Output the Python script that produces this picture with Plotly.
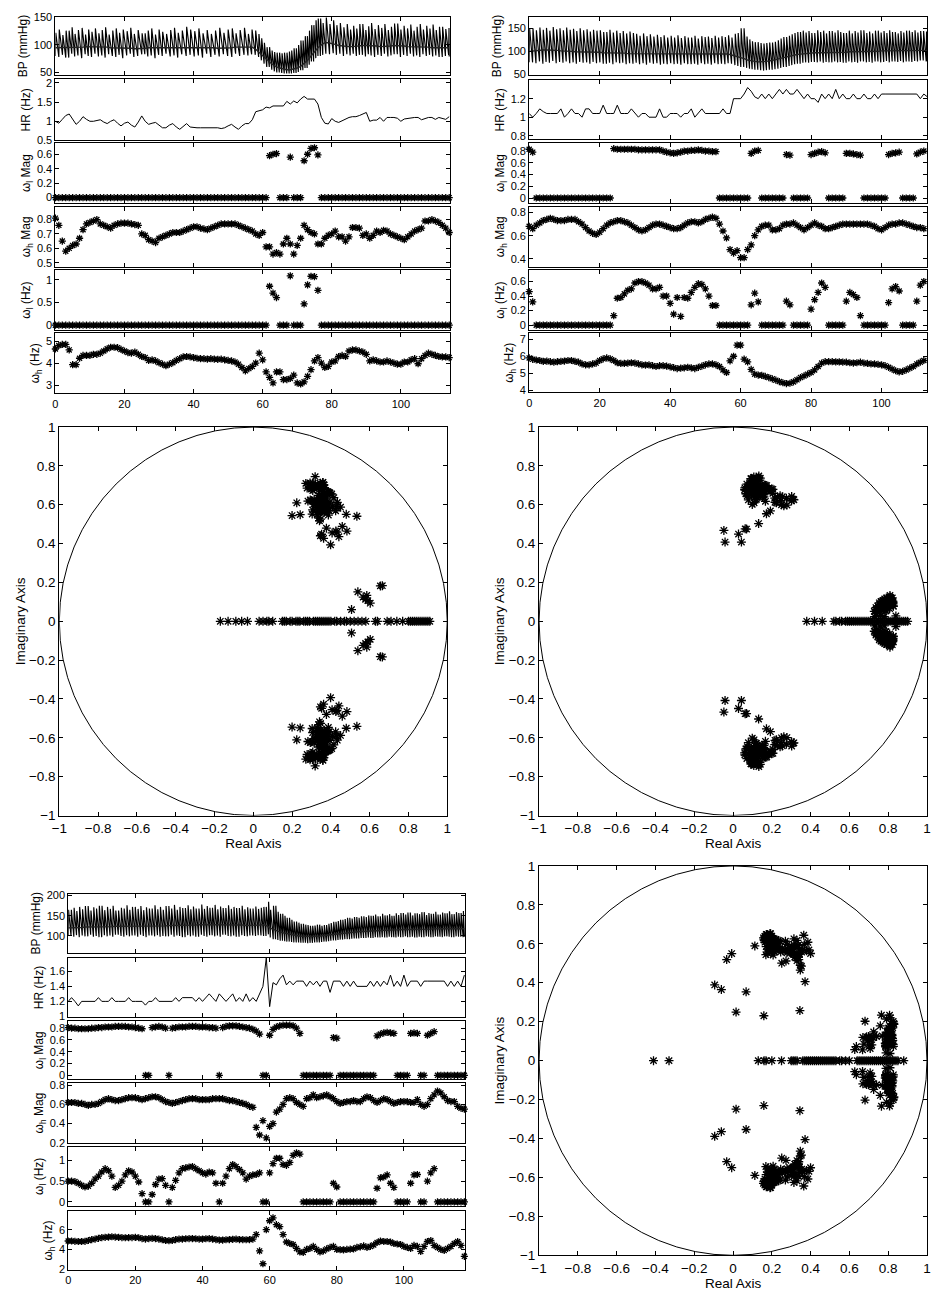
import numpy as np
import plotly.graph_objects as go

W, H = 931, 1293
FS = 25.0  # sampling rate used for the AR pole angles (Hz)
FONT = "Liberation Sans, Arial, Helvetica, sans-serif"

# ---------------------------------------------------------------- record A
bp_sys_a = [122,128,118,126,132,120,127,131,119,128,
            124,130,121,127,132,119,126,130,122,128,
            125,131,120,127,133,121,126,130,119,128,
            124,132,120,127,131,122,126,133,120,128,
            125,130,121,127,132,120,126,131,122,128,
            124,130,121,127,131,120,128,126,
            120,112,104,96,90,87,86,85,86,88,
            90,94,100,108,116,126,136,145,148,140,
            150,138,145,136,140,132,138,128,135,130,
            138,127,134,140,129,136,131,138,127,133,
            139,128,135,130,137,126,133,138,128,135,
            130,137,127,133,129,131,128]
bp_dia_a = [80,78,82,77,84,79,81,76,83,80,
            78,84,79,81,77,83,80,78,82,76,
            81,84,78,80,77,83,79,81,76,82,
            80,78,84,79,81,77,83,80,78,82,
            79,81,77,84,80,78,82,79,83,80,
            81,78,84,80,82,81,83,82,
            78,72,66,60,55,52,50,49,48,48,
            48,49,51,54,58,64,70,76,80,82,
            84,83,85,82,84,80,83,81,84,80,
            82,79,83,81,78,82,80,84,79,81,
            83,78,82,80,84,79,81,78,83,80,
            82,79,81,78,80,82,79]
bp_mean_a = [95,95,96,96,96,95,95,96,96,97,
             97,97,96,96,96,96,95,95,95,94,
             94,94,94,93,93,94,94,95,95,96,
             96,96,96,96,96,96,95,95,96,96,
             96,96,96,95,95,95,95,94,94,94,
             94,95,96,96,97,97,97,96,
             92,86,80,74,69,64,60,58,56,55,
             55,56,58,61,66,72,80,88,95,100,
             104,104,103,101,99,98,98,97,97,98,
             98,99,99,99,98,98,97,97,97,98,
             99,99,98,98,97,97,97,96,96,96,
             96,95,95,95,95,95,95]
hr_a = [1.00,0.95,1.05,1.15,1.19,1.05,0.92,1.00,1.12,1.05,
        1.00,1.00,1.02,1.04,0.98,0.94,1.00,1.04,0.95,0.88,
        0.95,0.98,0.90,0.85,0.98,1.14,1.00,0.92,0.95,0.97,
        0.90,0.83,0.83,0.90,0.94,0.85,0.79,0.87,0.94,0.85,
        0.83,0.83,0.83,0.83,0.83,0.83,0.82,0.83,0.81,0.83,
        0.88,0.92,0.85,0.79,0.88,0.94,0.94,1.04,1.25,1.27,
        1.30,1.37,1.35,1.40,1.40,1.40,1.40,1.52,1.45,1.53,
        1.48,1.58,1.65,1.58,1.58,1.58,1.45,1.10,0.95,0.93,
        1.07,1.00,0.97,1.02,1.05,1.10,1.12,1.12,1.15,1.20,
        1.23,1.00,1.03,1.03,1.10,1.00,1.10,1.10,1.10,1.08,
        1.00,1.06,1.08,1.10,1.10,1.10,1.04,1.07,1.10,1.10,
        1.05,1.10,1.08,1.05,1.12]
wl_mag_a = [0,0,0,0,0,0,0,0,0,0,
            0,0,0,0,0,0,0,0,0,0,
            0,0,0,0,0,0,0,0,0,0,
            0,0,0,0,0,0,0,0,0,0,
            0,0,0,0,0,0,0,0,0,0,
            0,0,0,0,0,0,0,0,0,0,
            0,0,0.58,0.60,0.61,0,0,0,0.56,0,
            0,0,0.51,0.60,0.68,0.69,0.59,0,0,0,
            0,0,0,0,0,0,0,0,0,0,
            0,0,0,0,0,0,0,0,0,0,
            0,0,0,0,0,0,0,0,0,0,
            0,0,0,0,0]
wl_hz_a = [0,0,0,0,0,0,0,0,0,0,
           0,0,0,0,0,0,0,0,0,0,
           0,0,0,0,0,0,0,0,0,0,
           0,0,0,0,0,0,0,0,0,0,
           0,0,0,0,0,0,0,0,0,0,
           0,0,0,0,0,0,0,0,0,0,
           0,0,0.86,0.71,0.61,0,0,0,1.09,0,
           0,0,0.47,0.89,1.08,1.07,0.77,0,0,0,
           0,0,0,0,0,0,0,0,0,0,
           0,0,0,0,0,0,0,0,0,0,
           0,0,0,0,0,0,0,0,0,0,
           0,0,0,0,0]
wh_mag_a = [0.81,0.76,0.65,0.58,0.60,0.62,0.63,0.67,0.73,0.77,
            0.78,0.79,0.80,0.77,0.76,0.75,0.74,0.76,0.77,0.775,
            0.775,0.775,0.77,0.765,0.76,0.70,0.69,0.66,0.65,0.64,
            0.67,0.68,0.69,0.70,0.71,0.71,0.71,0.72,0.73,0.74,
            0.75,0.75,0.74,0.735,0.73,0.74,0.75,0.76,0.77,0.77,
            0.77,0.77,0.77,0.76,0.75,0.74,0.73,0.72,0.70,0.69,
            0.71,0.61,0.61,0.56,0.57,0.56,0.63,0.67,0.63,0.56,
            0.62,0.67,0.76,0.73,0.71,0.70,0.63,0.63,0.67,0.69,
            0.70,0.72,0.68,0.68,0.65,0.68,0.745,0.745,0.74,0.69,
            0.70,0.67,0.69,0.72,0.71,0.725,0.72,0.70,0.69,0.68,
            0.67,0.66,0.68,0.70,0.72,0.73,0.74,0.79,0.79,0.80,
            0.79,0.78,0.76,0.74,0.71]
wh_hz_a = [4.64,4.80,4.85,4.85,4.60,3.93,3.93,4.22,4.35,4.35,
           4.35,4.40,4.40,4.45,4.55,4.65,4.72,4.72,4.70,4.62,
           4.55,4.48,4.45,4.50,4.40,4.30,4.25,4.12,4.15,4.10,
           4.02,3.95,3.88,3.95,4.02,4.12,4.20,4.28,4.30,4.28,
           4.25,4.22,4.20,4.20,4.18,4.20,4.18,4.17,4.18,4.15,
           4.12,4.10,4.05,3.95,3.80,3.65,3.75,3.85,4.00,4.45,
           4.15,3.60,3.35,3.10,3.60,3.60,3.25,3.25,3.30,3.45,
           3.10,3.05,3.15,3.40,3.70,4.10,4.25,4.00,3.80,3.85,
           4.05,4.10,4.30,4.35,4.30,4.55,4.60,4.60,4.55,4.50,
           4.40,4.10,4.15,4.10,4.05,4.05,4.10,4.05,4.00,3.95,
           3.95,4.05,4.05,4.15,4.20,3.97,4.20,4.35,4.45,4.40,
           4.35,4.30,4.28,4.28,4.25]
real_poles_a = [-0.17,-0.13,-0.09,-0.06,-0.03,0.03,0.05,0.07,0.08,0.10,
                0.15,0.16,0.17,0.19,0.20,0.22,0.23,0.24,0.26,0.27,
                0.28,0.29,0.31,0.32,0.33,0.34,0.35,0.36,0.37,0.38,
                0.39,0.40,0.42,0.43,0.45,0.47,0.48,0.50,0.52,0.54,
                0.56,0.58,0.63,0.64,0.69,0.71,0.74,0.77,0.80,0.81,
                0.82,0.83,0.84,0.85,0.86,0.87,0.88,0.89,0.90,0.91]

# ---------------------------------------------------------------- record B
bp_sys_b = [150,146,152,147,151,145,153,148,150,146,
            152,147,149,144,150,146,148,143,147,145,
            146,142,147,141,145,140,144,139,143,140,
            138,134,139,133,137,132,136,131,135,130,
            134,130,135,129,133,130,134,128,133,131,
            132,129,134,130,133,131,135,130,
            138,140,150,132,126,122,120,118,117,118,
            119,121,124,128,131,134,137,140,142,145,
            141,144,140,146,142,145,139,144,141,146,
            142,140,145,139,144,141,146,140,143,139,
            145,141,144,140,146,142,139,144,141,145,
            142,146,141,144,143,147]
bp_dia_b = [76,74,78,73,77,75,79,74,77,75,
            78,74,76,73,77,75,76,73,77,74,
            76,73,75,72,76,74,75,72,74,73,
            75,72,74,71,75,73,74,71,73,72,
            74,72,73,71,74,72,73,71,74,72,
            73,71,74,72,73,72,74,73,
            70,68,66,64,62,61,60,59,58,59,
            60,61,62,64,66,68,70,72,73,75,
            76,75,77,76,78,75,77,76,78,76,
            77,75,78,76,77,75,78,76,77,75,
            78,76,77,79,76,78,77,79,76,78,
            77,79,78,80,78,79]
bp_mean_b = [100,101,102,103,103,103,103,102,102,101,
             101,100,100,99,99,99,98,98,98,98,
             98,97,97,97,96,96,96,96,95,95,
             95,95,95,95,95,94,94,94,94,94,
             94,94,94,94,94,94,94,95,95,95,
             95,95,95,95,95,95,94,93,
             91,89,87,84,81,79,78,77,77,78,
             79,80,82,84,86,88,90,92,93,94,
             95,96,96,97,97,97,97,97,97,98,
             98,98,98,99,99,99,99,100,100,100,
             100,100,101,101,101,101,101,102,102,102,
             102,102,102,102,102,102]
hr_b = [1.04,1.00,1.04,1.09,1.06,1.04,1.04,1.04,1.04,1.09,
        1.00,1.04,1.09,1.04,1.04,1.00,1.09,1.09,1.04,1.04,
        1.04,1.13,1.04,1.04,1.04,1.13,1.04,1.04,1.04,1.09,
        1.04,1.00,1.04,1.04,1.00,1.00,1.00,1.09,1.00,1.00,
        1.04,1.04,1.04,1.00,1.04,1.04,1.09,1.00,1.04,1.09,
        1.04,1.04,1.04,1.04,1.04,1.09,1.04,1.04,1.20,1.20,
        1.20,1.25,1.32,1.28,1.22,1.20,1.25,1.20,1.25,1.20,
        1.25,1.30,1.25,1.30,1.25,1.25,1.30,1.25,1.20,1.25,
        1.20,1.20,1.16,1.25,1.20,1.25,1.20,1.30,1.20,1.25,
        1.20,1.20,1.25,1.20,1.20,1.25,1.20,1.20,1.25,1.20,
        1.25,1.25,1.25,1.25,1.25,1.25,1.25,1.25,1.25,1.25,
        1.25,1.20,1.25,1.22]
wl_mag_b = [0.83,0.78,0,0,0,0,0,0,0,0,
            0,0,0,0,0,0,0,0,0,0,
            0,0,0,0,0.84,0.83,0.83,0.83,0.83,0.83,
            0.83,0.82,0.82,0.82,0.82,0.82,0.82,0.82,0.80,0.78,
            0.77,0.76,0.77,0.78,0.80,0.80,0.81,0.81,0.82,0.81,
            0.80,0.80,0.79,0.79,0,0,0,0,0,0,
            0,0,0,0.76,0.80,0.81,0,0,0,0,
            0,0,0,0.74,0.73,0,0,0,0,0,
            0.74,0.76,0.78,0.79,0.77,0,0,0,0,0,
            0.76,0.76,0.75,0.74,0.73,0,0,0,0,0,
            0,0,0.74,0.76,0.77,0.78,0,0,0,0,
            0.75,0.78,0.80,0.82]
wl_hz_b = [0.46,0.32,0,0,0,0,0,0,0,0,
           0,0,0,0,0,0,0,0,0,0,
           0,0,0,0,0.13,0.37,0.38,0.43,0.48,0.50,
           0.58,0.60,0.60,0.58,0.55,0.50,0.50,0.52,0.40,0.40,
           0.30,0.15,0.38,0.12,0.38,0.37,0.45,0.52,0.57,0.56,
           0.50,0.40,0.27,0.27,0,0,0,0,0,0,
           0,0,0,0.28,0.44,0.32,0,0,0,0,
           0,0,0,0.33,0.28,0,0,0,0,0,
           0.22,0.35,0.45,0.58,0.52,0,0,0,0,0,
           0.33,0.45,0.42,0.38,0.13,0,0,0,0,0,
           0,0,0.31,0.50,0.53,0.47,0,0,0,0,
           0.33,0.55,0.60,0.65]
wh_mag_b = [0.68,0.66,0.69,0.71,0.73,0.74,0.75,0.74,0.73,0.73,
            0.73,0.74,0.74,0.74,0.72,0.70,0.67,0.64,0.62,0.61,
            0.63,0.66,0.69,0.71,0.72,0.73,0.73,0.72,0.71,0.69,
            0.67,0.65,0.64,0.65,0.67,0.69,0.70,0.70,0.69,0.68,
            0.67,0.66,0.66,0.67,0.69,0.71,0.72,0.72,0.71,0.72,
            0.74,0.75,0.76,0.75,0.70,0.64,0.58,0.48,0.45,0.47,
            0.41,0.41,0.48,0.52,0.60,0.65,0.68,0.69,0.69,0.65,
            0.65,0.66,0.69,0.70,0.70,0.71,0.69,0.67,0.65,0.67,
            0.69,0.71,0.69,0.68,0.66,0.66,0.67,0.68,0.69,0.70,
            0.70,0.70,0.70,0.70,0.70,0.70,0.70,0.69,0.68,0.66,
            0.65,0.67,0.69,0.70,0.70,0.71,0.71,0.70,0.69,0.68,
            0.67,0.67,0.66,0.65]
wh_hz_b = [5.90,5.82,5.78,5.75,5.70,5.72,5.68,5.65,5.68,5.70,
           5.72,5.75,5.75,5.70,5.65,5.55,5.50,5.50,5.55,5.60,
           5.75,5.85,5.90,5.85,5.75,5.62,5.58,5.58,5.60,5.62,
           5.60,5.55,5.50,5.48,5.50,5.45,5.40,5.45,5.45,5.42,
           5.38,5.33,5.28,5.30,5.32,5.35,5.32,5.28,5.35,5.42,
           5.50,5.55,5.55,5.50,5.40,5.20,5.05,5.73,6.00,6.65,
           6.65,5.83,5.67,5.23,4.95,4.90,4.88,4.82,4.75,4.68,
           4.60,4.52,4.45,4.40,4.42,4.50,4.62,4.75,4.85,4.95,
           5.05,5.20,5.40,5.60,5.68,5.68,5.68,5.67,5.67,5.66,
           5.65,5.62,5.60,5.62,5.65,5.60,5.58,5.55,5.55,5.52,
           5.50,5.45,5.35,5.25,5.15,5.08,5.12,5.20,5.30,5.40,
           5.55,5.65,5.75,5.80]
real_poles_b = [0.38,0.42,0.46,0.52,0.53,0.55,0.56,0.58,0.59,0.60,
                0.61,0.62,0.63,0.64,0.65,0.66,0.67,0.68,0.69,0.70,
                0.71,0.72,0.73,0.74,0.75,0.76,0.77,0.78,0.79,0.80,
                0.81,0.82,0.83,0.84,0.85,0.86,0.87,0.88,0.89,0.90]

# ---------------------------------------------------------------- record C
bp_sys_c = [165,170,162,172,166,174,163,171,168,175,
            164,172,167,175,163,170,168,176,165,172,
            167,174,164,171,168,176,166,172,165,174,
            168,177,165,172,169,176,166,173,168,178,
            167,174,170,177,166,173,169,176,167,172,
            169,175,166,171,168,173,167,170,
            172,185,165,175,160,155,150,145,140,136,
            133,130,128,127,125,126,128,125,127,130,
            132,135,137,140,142,145,143,147,145,149,
            147,151,150,153,149,155,151,154,150,156,
            152,157,153,158,151,156,154,159,152,157,
            155,160,153,158,156,161,154,159,157,162,
            158]
bp_dia_c = [100,98,102,97,101,99,103,98,100,97,
            102,99,101,98,103,100,98,102,99,101,
            98,103,100,97,101,99,102,98,100,99,
            103,98,101,100,97,102,99,101,98,103,
            100,98,102,99,101,98,103,100,99,101,
            98,102,100,99,101,100,102,101,
            100,104,96,92,90,88,87,86,85,84,
            84,83,83,82,83,84,84,85,86,87,
            88,89,90,91,92,92,93,94,94,95,
            95,96,95,97,96,97,96,98,97,96,
            98,97,99,97,98,96,98,97,99,98,
            97,99,98,97,99,98,97,99,98,97,
            98]
bp_mean_c = [120,120,121,121,121,122,122,122,122,123,
             123,123,123,123,124,124,124,124,124,125,
             125,125,125,125,125,125,125,125,125,125,
             126,126,126,126,127,127,127,127,127,128,
             128,128,128,128,128,128,128,127,127,127,
             127,127,127,126,126,126,126,127,
             128,126,120,116,113,110,108,106,104,102,
             101,100,99,99,99,99,100,100,101,102,
             103,104,105,106,107,108,109,110,110,111,
             111,112,112,113,113,114,114,114,115,115,
             115,116,116,116,116,117,117,117,117,117,
             117,118,118,118,118,118,118,118,118,118,
             118]
hr_c = [1.20,1.25,1.20,1.14,1.20,1.20,1.20,1.20,1.20,1.25,
        1.20,1.20,1.20,1.25,1.20,1.20,1.20,1.20,1.25,1.20,
        1.20,1.20,1.20,1.15,1.20,1.20,1.25,1.20,1.20,1.20,
        1.20,1.20,1.25,1.20,1.25,1.25,1.25,1.25,1.20,1.25,
        1.20,1.25,1.30,1.25,1.20,1.30,1.25,1.20,1.25,1.30,
        1.20,1.25,1.20,1.30,1.20,1.25,1.20,1.30,1.40,1.78,
        1.13,1.45,1.42,1.50,1.55,1.42,1.47,1.42,1.47,1.47,
        1.47,1.40,1.47,1.42,1.47,1.40,1.47,1.47,1.32,1.47,
        1.47,1.47,1.40,1.47,1.40,1.47,1.40,1.40,1.40,1.40,
        1.47,1.40,1.47,1.40,1.47,1.42,1.55,1.40,1.47,1.40,
        1.55,1.40,1.47,1.47,1.47,1.40,1.47,1.47,1.47,1.47,
        1.47,1.47,1.47,1.40,1.47,1.40,1.47,1.40,1.55]
wl_mag_c = [0.81,0.80,0.80,0.79,0.79,0.79,0.79,0.80,0.80,0.81,
            0.81,0.82,0.82,0.82,0.83,0.83,0.83,0.83,0.82,0.82,
            0.81,0.80,0.79,0,0,0.81,0.82,0.83,0.82,0.80,
            0,0.80,0.81,0.82,0.82,0.82,0.83,0.83,0.83,0.82,
            0.82,0.82,0.81,0.81,0.80,0,0.81,0.83,0.84,0.84,
            0.84,0.83,0.82,0.81,0.80,0.78,0.75,0.70,0,0,
            0.68,0.78,0.82,0.84,0.85,0.85,0.85,0.84,0.80,0.71,
            0,0,0,0,0,0,0,0,0,0.64,
            0.63,0,0,0,0,0,0,0,0,0,
            0,0,0.67,0.70,0.72,0.73,0.72,0.71,0,0,
            0,0,0.71,0.72,0.71,0,0,0.68,0.71,0.74,
            0,0,0,0,0,0,0,0,0]
wl_hz_c = [0.50,0.50,0.49,0.45,0.40,0.36,0.38,0.45,0.55,0.62,
           0.72,0.80,0.75,0.62,0.35,0.40,0.50,0.65,0.75,0.72,
           0.62,0.48,0.20,0,0,0.18,0.42,0.55,0.56,0.40,
           0,0.35,0.52,0.70,0.80,0.82,0.84,0.85,0.80,0.75,
           0.70,0.67,0.72,0.70,0.45,0,0.45,0.62,0.80,0.90,
           0.85,0.78,0.70,0.55,0.62,0.65,0.66,0.70,0,0,
           0.70,0.92,1.05,1.05,0.90,0.88,0.95,1.12,1.18,1.15,
           0,0,0,0,0,0,0,0,0,0.45,
           0.36,0,0,0,0,0,0,0,0,0,
           0,0,0.33,0.58,0.60,0.65,0.45,0.35,0,0,
           0,0,0.45,0.65,0.66,0,0,0.50,0.70,0.80,
           0,0,0,0,0,0,0,0,0]
wh_mag_c = [0.62,0.62,0.62,0.61,0.61,0.60,0.59,0.60,0.60,0.61,
            0.63,0.65,0.66,0.65,0.64,0.64,0.65,0.66,0.67,0.67,
            0.67,0.66,0.65,0.66,0.67,0.68,0.68,0.67,0.65,0.63,
            0.62,0.61,0.62,0.63,0.64,0.65,0.66,0.66,0.66,0.65,
            0.65,0.65,0.65,0.66,0.66,0.66,0.66,0.65,0.64,0.64,
            0.63,0.62,0.61,0.60,0.58,0.57,0.36,0.28,0.43,0.25,
            0.37,0.40,0.52,0.55,0.60,0.66,0.67,0.66,0.62,0.60,
            0.58,0.66,0.67,0.70,0.67,0.68,0.69,0.70,0.68,0.66,
            0.63,0.61,0.62,0.63,0.63,0.64,0.63,0.63,0.66,0.68,
            0.67,0.64,0.62,0.64,0.66,0.65,0.63,0.61,0.62,0.63,
            0.63,0.63,0.62,0.62,0.65,0.60,0.58,0.60,0.66,0.70,
            0.74,0.72,0.68,0.64,0.63,0.63,0.58,0.56,0.55]
wh_hz_c = [4.85,4.85,4.82,4.80,4.80,4.82,4.90,5.00,5.05,5.12,
           5.20,5.22,5.25,5.28,5.25,5.22,5.20,5.18,5.20,5.20,
           5.22,5.18,5.10,5.05,5.10,5.12,5.10,5.05,4.98,4.90,
           4.88,4.90,5.00,5.05,5.05,5.08,5.10,5.10,5.08,5.05,
           5.05,5.08,5.10,5.05,5.00,4.95,4.95,4.98,5.00,5.02,
           5.05,5.00,5.00,4.98,5.00,5.05,5.50,3.85,2.55,6.00,
           6.90,7.20,6.50,6.30,5.50,4.75,4.60,4.50,4.10,3.75,
           3.70,4.00,4.10,4.30,4.00,3.75,3.85,4.05,4.20,4.30,
           4.00,3.98,3.95,4.00,4.02,4.05,4.20,4.25,4.35,4.20,
           4.30,4.45,4.70,4.85,4.80,4.80,4.75,4.60,4.55,4.50,
           4.30,4.20,4.10,4.40,4.30,3.80,4.30,4.80,4.90,4.40,
           4.20,4.00,3.90,4.10,4.30,4.60,4.80,4.40,3.30]
real_poles_c = [-0.41,-0.33,0.13,0.16,0.17,0.20,0.25,0.30,0.31,0.32,
                0.33,0.36,0.37,0.38,0.39,0.40,0.41,0.42,0.43,0.44,
                0.45,0.46,0.47,0.48,0.49,0.50,0.51,0.52,0.53,0.55,
                0.56,0.58,0.60,0.64,0.65,0.66,0.67,0.68,0.69,0.70,
                0.71,0.72,0.73,0.74,0.75,0.76,0.77,0.78,0.79,0.80,
                0.81,0.82,0.83,0.84,0.85,0.88]

# ---------------------------------------------------------------- helpers
fig = go.Figure()
layout = {}
n_axes = [0]


def dom_x(x0, x1):
    return [x0 / W, min(x1 / W, 1.0)]


def dom_y(y0, y1):
    return [1 - y1 / H, 1 - y0 / H]


def new_axes(xpx, ypx, xr, yr, xt, yt, xlabels, ytitle=None, xtitle=None,
             tick_size=11, title_size=12, ystand=3):
    n_axes[0] += 1
    n = n_axes[0]
    sx = "" if n == 1 else str(n)
    common = dict(showline=True, linecolor="black", linewidth=1, mirror="ticks",
                  ticks="inside", ticklen=4, tickwidth=1, tickcolor="black",
                  showgrid=False, zeroline=False,
                  tickfont=dict(family=FONT, size=tick_size, color="black"))
    layout["xaxis" + sx] = dict(common, domain=dom_x(*xpx), range=xr,
                                tickvals=xt, showticklabels=xlabels,
                                anchor="y" + sx)
    if xtitle:
        layout["xaxis" + sx]["title"] = dict(
            text=xtitle, standoff=0,
            font=dict(family=FONT, size=title_size, color="black"))
    layout["yaxis" + sx] = dict(common, domain=dom_y(*ypx), range=yr,
                                tickvals=yt, anchor="x" + sx)
    if ytitle:
        layout["yaxis" + sx]["title"] = dict(
            text=ytitle, standoff=ystand,
            font=dict(family=FONT, size=title_size, color="black"))
    return "x" + sx, "y" + sx


STAR = dict(symbol="asterisk-open", size=6, color="black",
            line=dict(width=1.3, color="black"))
STAR_BIG = dict(symbol="asterisk-open", size=7.5, color="black",
                line=dict(width=1.3, color="black"))


def pulse_wave(sys_v, dia_v, hr_v):
    """Beat-by-beat pressure trace: upstroke to systole, run-off to diastole."""
    xs, ys = [], []
    n = len(sys_v)
    tb = 0.0
    while tb < n - 1:
        k = int(tb)
        period = 1.0 / hr_v[min(k, len(hr_v) - 1)]
        xs += [tb, tb + 0.12 * period]
        ys += [dia_v[k], sys_v[k]]
        tb += period
    xs.append(n - 1)
    ys.append(dia_v[-1])
    return xs, ys


def stack(xpx, rows, xr, rec, yranges, yticks, xticks):
    bp_s, bp_d, bp_m, hr, wlm, whm, wlh, whh = rec
    names = ["BP (mmHg)", "HR (Hz)", "ω<sub>l</sub> Mag", "ω<sub>h</sub> Mag",
             "ω<sub>l</sub> (Hz)", "ω<sub>h</sub> (Hz)"]
    refs = []
    for i in range(6):
        refs.append(new_axes(xpx, rows[i], xr, yranges[i], xticks, yticks[i],
                             i == 5, names[i]))
    wx, wy = pulse_wave(bp_s, bp_d, hr)
    fig.add_trace(go.Scatter(x=wx, y=wy, mode="lines",
                             line=dict(color="black", width=1.15),
                             xaxis=refs[0][0], yaxis=refs[0][1]))
    fig.add_trace(go.Scatter(x=np.arange(len(bp_m)), y=bp_m, mode="lines",
                             line=dict(color="#222222", width=1.4),
                             xaxis=refs[0][0], yaxis=refs[0][1]))
    fig.add_trace(go.Scatter(x=np.arange(len(hr)), y=hr, mode="lines",
                             line=dict(color="black", width=1),
                             xaxis=refs[1][0], yaxis=refs[1][1]))
    for j, series in zip(range(2, 6), [wlm, whm, wlh, whh]):
        fig.add_trace(go.Scatter(x=np.arange(len(series)), y=series,
                                 mode="markers", marker=STAR, cliponaxis=False,
                                 xaxis=refs[j][0], yaxis=refs[j][1]))


def pole_map(xpx, ypx, xr, rec, real_list):
    _, _, _, _, wlm, whm, wlh, whh = rec
    ticks = [round(-1 + 0.2 * i, 1) for i in range(11)]
    xa, ya = new_axes(xpx, ypx, xr, [-1, 1], ticks, ticks, True,
                      ytitle="Imaginary Axis", xtitle="Real Axis",
                      tick_size=13.5, title_size=13.5, ystand=0)
    mag_h = np.array(whm)
    ang_h = 2 * np.pi * np.array(whh) / FS
    mag_l = np.array(wlm)
    ang_l = 2 * np.pi * np.array(wlh) / FS
    cplx = mag_l > 0
    re = np.concatenate([mag_h * np.cos(ang_h), mag_h * np.cos(ang_h),
                         mag_l[cplx] * np.cos(ang_l[cplx]),
                         mag_l[cplx] * np.cos(ang_l[cplx]),
                         np.array(real_list)])
    im = np.concatenate([mag_h * np.sin(ang_h), -mag_h * np.sin(ang_h),
                         mag_l[cplx] * np.sin(ang_l[cplx]),
                         -mag_l[cplx] * np.sin(ang_l[cplx]),
                         np.zeros(len(real_list))])
    fig.add_shape(type="circle", xref=xa, yref=ya, x0=-1, y0=-1, x1=1, y1=1,
                  line=dict(color="black", width=1), layer="below")
    fig.add_trace(go.Scatter(x=re, y=im, mode="markers", marker=STAR_BIG,
                             xaxis=xa, yaxis=ya))


rec_a = (bp_sys_a, bp_dia_a, bp_mean_a, hr_a, wl_mag_a, wh_mag_a, wl_hz_a, wh_hz_a)
rec_b = (bp_sys_b, bp_dia_b, bp_mean_b, hr_b, wl_mag_b, wh_mag_b, wl_hz_b, wh_hz_b)
rec_c = (bp_sys_c, bp_dia_c, bp_mean_c, hr_c, wl_mag_c, wh_mag_c, wl_hz_c, wh_hz_c)

time_ticks = [0, 20, 40, 60, 80, 100]

# record A: time courses (top left) and poles (middle left)
stack((48, 448),
      [(10, 69), (73, 135), (138, 198), (202, 263), (266, 327), (330, 391)],
      [0, 114.3], rec_a,
      [[45, 151], [0.5, 2.1], [-0.07, 0.75], [0.47, 0.89], [-0.11, 1.22], [2.62, 5.36]],
      [[50, 100, 150], [0.5, 1, 1.5, 2], [0, 0.2, 0.4, 0.6], [0.5, 0.6, 0.7, 0.8],
       [0, 0.5, 1], [3, 4, 5]],
      time_ticks)
pole_map((52, 445), (425, 818), [-1, 1], rec_a, real_poles_a)

# record B: time courses (top right) and poles (middle right)
stack((528, 931),
      [(10, 69), (74, 134), (138, 198), (202, 263), (266, 327), (330, 390)],
      [0, 112.9], rec_b,
      [[48, 175], [0.76, 1.40], [-0.08, 0.93], [0.33, 0.85], [-0.07, 0.76], [3.88, 7.35]],
      [[50, 100, 150], [0.8, 1, 1.2], [0, 0.2, 0.4, 0.6, 0.8], [0.4, 0.6, 0.8],
       [0, 0.2, 0.4, 0.6], [4, 5, 6, 7]],
      time_ticks)
pole_map((538, 931), (425, 818), [-1, 1.0], rec_b, real_poles_b)

# record C: time courses (bottom left) and poles (bottom right)
stack((61, 463),
      [(897, 957), (962, 1022), (1026, 1085), (1089, 1149), (1153, 1213), (1218, 1278)],
      [0, 118.2], rec_c,
      [[58, 205], [0.99, 1.78], [-0.07, 0.92], [0.2, 0.82], [-0.095, 1.33], [1.9, 7.9]],
      [[100, 150, 200], [1, 1.2, 1.4, 1.6], [0, 0.2, 0.4, 0.6, 0.8], [0.2, 0.4, 0.6, 0.8],
       [0, 0.5, 1], [2, 4, 6]],
      time_ticks)
pole_map((538, 931), (869, 1263), [-1, 1.0], rec_c, real_poles_c)

fig.update_layout(**layout)
fig.update_layout(width=W, height=H, margin=dict(l=0, r=0, t=0, b=0),
                  paper_bgcolor="white", plot_bgcolor="white",
                  showlegend=False, font=dict(family=FONT, color="black"))
fig.write_html("out.html")
